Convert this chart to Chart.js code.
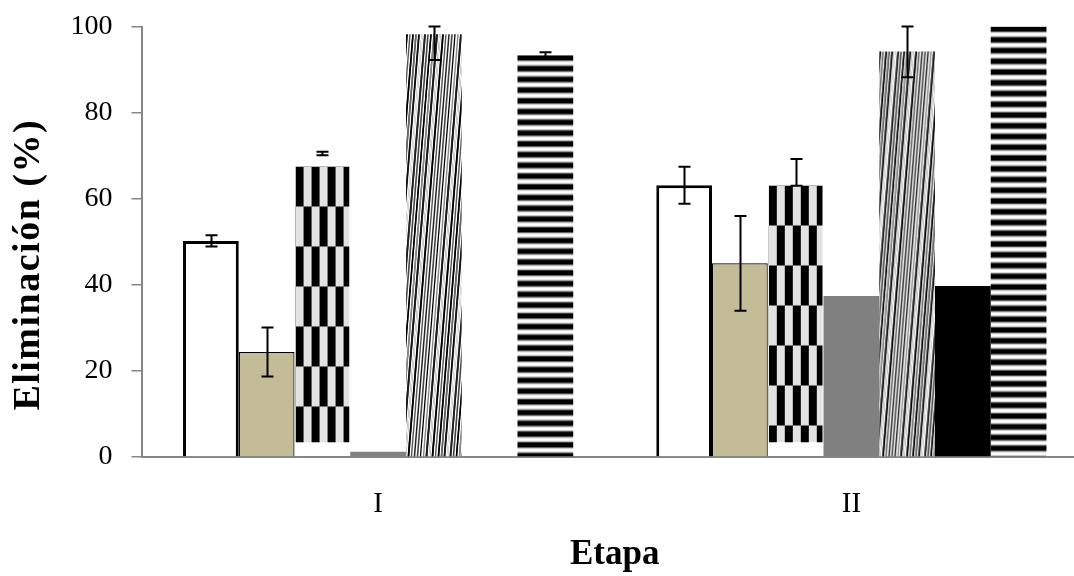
<!DOCTYPE html>
<html>
<head>
<meta charset="utf-8">
<script src="https://cdn.jsdelivr.net/npm/chart.js@4/dist/chart.umd.min.js"></script>
<style>
  html, body { margin: 0; padding: 0; background: #ffffff; overflow: hidden; }
  #wrap { width: 1088px; height: 576px; }
</style>
</head>
<body>
<div id="wrap"><canvas id="c" width="1088" height="576"></canvas></div>
<script>
// ---- data ----
const categories = ['I', 'II'];
const yTicks = [0, 20, 40, 60, 80, 100];
const whiteVals = [50.2, 63.1];
const whiteErr = [1.3, 4.3];
const tanVals = [24.4, 45.0];
const tanErr = [5.7, 11.0];
const checkerVals = [70.5, 66.1];
const checkerErr = [0.4, 3.1];
const grayVals = [1.2, 37.4];
const diagVals = [98.2, 94.2];
const diagErr = [6.0, 6.0];
const blackVals = [0, 39.7];
const horizVals = [93.3, 100];
const horizErr = [0.7, 0];
const yTitle = 'Eliminación (%)';
const xTitle = 'Etapa';

// ---- patterns ----
const ctxMain = document.getElementById('c').getContext('2d');

function makeChecker() {
  const c = document.createElement('canvas');
  c.width = 16; c.height = 80;
  const g = c.getContext('2d');
  g.fillStyle = '#e2e2e2'; g.fillRect(0, 0, 16, 80);
  g.fillStyle = '#000000';
  g.fillRect(0, 0, 8, 40);
  g.fillRect(8, 40, 8, 40);
  return ctxMain.createPattern(c, 'repeat');
}
function makeDiag() {
  const W = 60, H = 440, dx = 36;
  const c = document.createElement('canvas');
  c.width = W; c.height = H;
  const g = c.getContext('2d');
  g.fillStyle = '#ffffff'; g.fillRect(0, 0, W, H);
  const cols = ['#000000', '#666666', '#111111', '#ffffff', '#222222', '#444444', '#000000', '#888888', '#1a1a1a', '#ffffff', '#000000', '#555555'];
  const widths = [1.6, 1.4, 1.8, 1.0, 1.5, 1.6, 1.3, 1.4, 1.9, 1.0, 1.5, 1.4];
  let k = 0;
  for (let x = -dx - 6; x < W + 6; x += 3.0) {
    g.strokeStyle = cols[k % cols.length];
    g.lineWidth = widths[k % widths.length];
    for (const off of [-W, 0, W]) {
      g.beginPath();
      g.moveTo(x + off, H);
      g.lineTo(x + off + dx, 0);
      g.stroke();
    }
    k++;
  }
  return ctxMain.createPattern(c, 'repeat');
}
function makeHoriz() {
  const c = document.createElement('canvas');
  c.width = 8; c.height = 43;
  const g = c.getContext('2d');
  g.fillStyle = '#ffffff'; g.fillRect(0, 0, 8, 43);
  for (let i = 0; i < 4; i++) {
    const y0 = i * 10.75;
    g.fillStyle = '#a0a0a0'; g.fillRect(0, y0 - 1.2, 8, 7.4);
    g.fillStyle = '#000000'; g.fillRect(0, y0, 8, 5);
  }
  g.fillStyle = '#a0a0a0'; g.fillRect(0, 43 - 1.2, 8, 1.2);
  return ctxMain.createPattern(c, 'repeat');
}
const checkerPat = makeChecker();
const diagPat = makeDiag();
const horizPat = makeHoriz();

// ---- plugins ----
const patternDraw = {
  id: 'patternDraw',
  beforeDatasetDraw(chart, args) {
    const ds = chart.data.datasets[args.index];
    if (!ds.patternKind) return;
    const ctx = chart.ctx;
    const area = chart.chartArea;
    const meta = args.meta;
    meta.data.forEach((el) => {
      const left = el.x - el.width / 2;
      const top = Math.min(el.y, el.base);
      const h = Math.abs(el.base - el.y);
      if (h <= 0) return;
      ctx.save();
      ctx.beginPath();
      ctx.rect(area.left, area.top, area.right - area.left, area.bottom - area.top);
      ctx.clip();
      let anchorTop = top;
      if (ds.patternKind === 'checker') {
        ctx.beginPath();
        ctx.rect(left + 1, top + 13, el.width - 2, h - 27);
        ctx.clip();
        anchorTop = top + 13;
      }
      ds.backgroundColor.setTransform(new DOMMatrix().translate(left + 1, anchorTop));
      el.draw(ctx, area);
      ctx.restore();
    });
    return false;
  }
};

const errorBars = {
  id: 'errorBars',
  afterDatasetsDraw(chart) {
    const ctx = chart.ctx;
    const yScale = chart.scales.y;
    const yMax = yScale.max;
    ctx.save();
    ctx.strokeStyle = '#000000';
    ctx.lineWidth = 2;
    chart.data.datasets.forEach((ds, i) => {
      if (!ds.errors) return;
      const meta = chart.getDatasetMeta(i);
      meta.data.forEach((el, j) => {
        const e = ds.errors[j];
        if (!e) return;
        const v = ds.data[j];
        const yT = yScale.getPixelForValue(Math.min(v + e, yMax));
        const yB = yScale.getPixelForValue(v - e);
        const x = Math.round(el.x) + 0.5;
        ctx.beginPath();
        ctx.moveTo(x, yT); ctx.lineTo(x, yB);
        ctx.moveTo(x - 6, yT); ctx.lineTo(x + 6, yT);
        ctx.moveTo(x - 6, yB); ctx.lineTo(x + 6, yB);
        ctx.stroke();
      });
    });
    ctx.restore();
  }
};

const yTitlePlugin = {
  id: 'yTitlePlugin',
  afterDraw(chart) {
    const ctx = chart.ctx;
    const area = chart.chartArea;
    ctx.save();
    ctx.translate(29, (area.top + area.bottom) / 2 + 24);
    ctx.rotate(-Math.PI / 2);
    ctx.font = 'bold 38px "Liberation Serif", "Times New Roman", serif';
    ctx.fillStyle = '#000000';
    ctx.textAlign = 'center';
    ctx.textBaseline = 'middle';
    try { ctx.letterSpacing = '1.5px'; } catch (e) {}
    ctx.fillText(yTitle, 1, 0);
    ctx.restore();
  }
};

// ---- chart ----
const common = { borderSkipped: false, barPercentage: 1.0, categoryPercentage: 0.8245 };
const chart = new Chart(ctxMain, {
  type: 'bar',
  data: {
    labels: categories,
    datasets: [
      Object.assign({ label: 'A', data: whiteVals, errors: whiteErr, backgroundColor: '#ffffff', borderColor: '#000000', borderWidth: 3, borderSkipped: 'bottom' }, { barPercentage: 1.0, categoryPercentage: 0.8245 }),
      Object.assign({ label: 'B', data: tanVals, errors: tanErr, backgroundColor: '#c4bc96', borderColor: '#000000', borderWidth: 1.2, borderSkipped: 'bottom' }, { barPercentage: 1.0, categoryPercentage: 0.8245 }),
      Object.assign({ label: 'C', data: checkerVals, errors: checkerErr, backgroundColor: checkerPat, borderWidth: 0, patternKind: 'checker' }, common),
      Object.assign({ label: 'D', data: grayVals, backgroundColor: '#808080', borderWidth: 0 }, common),
      Object.assign({ label: 'E', data: diagVals, errors: diagErr, backgroundColor: diagPat, borderWidth: 0, patternKind: 'diag' }, common),
      Object.assign({ label: 'F', data: blackVals, backgroundColor: '#000000', borderWidth: 0 }, common),
      Object.assign({ label: 'G', data: horizVals, errors: horizErr, backgroundColor: horizPat, borderWidth: 0, patternKind: 'horiz' }, common)
    ]
  },
  options: {
    responsive: false,
    animation: false,
    devicePixelRatio: 1,
    layout: { padding: { top: 26.5, left: 0, right: 0, bottom: 0 } },
    plugins: { legend: { display: false }, title: { display: false }, tooltip: { enabled: false } },
    scales: {
      x: {
        type: 'category',
        offset: true,
        grid: { display: false, drawTicks: false },
        border: { display: true, color: '#868686', width: 2 },
        ticks: { color: '#000000', font: { family: '"Liberation Serif", "Times New Roman", serif', size: 29 }, padding: 30, maxRotation: 0 },
        title: { display: true, text: xTitle, color: '#000000', font: { family: '"Liberation Serif", "Times New Roman", serif', size: 35, weight: 'bold' }, padding: { top: 0, bottom: 0 } },
        afterFit(scale) { scale.height = 119; }
      },
      y: {
        min: 0, max: 100,
        afterBuildTicks(scale) { scale.ticks = yTicks.map(v => ({ value: v })); },
        grid: { drawOnChartArea: false, drawTicks: true, tickLength: 10, color: '#868686', lineWidth: 1.5 },
        border: { display: true, color: '#868686', width: 2 },
        ticks: { color: '#000000', font: { family: '"Liberation Serif", "Times New Roman", serif', size: 28 }, padding: 19 },
        afterFit(scale) { scale.width = 141.5; scale.paddingTop = 0; scale.paddingBottom = 0; }
      }
    }
  },
  plugins: [patternDraw, errorBars, yTitlePlugin]
});
// align the plot-area top with the reference (26.5 px)
for (let i = 0; i < 3; i++) {
  const dt = 26.5 - chart.chartArea.top;
  if (Math.abs(dt) < 0.2) break;
  chart.options.layout.padding.top = Math.max(0, chart.options.layout.padding.top + dt);
  chart.update();
}
</script>
</body>
</html>
